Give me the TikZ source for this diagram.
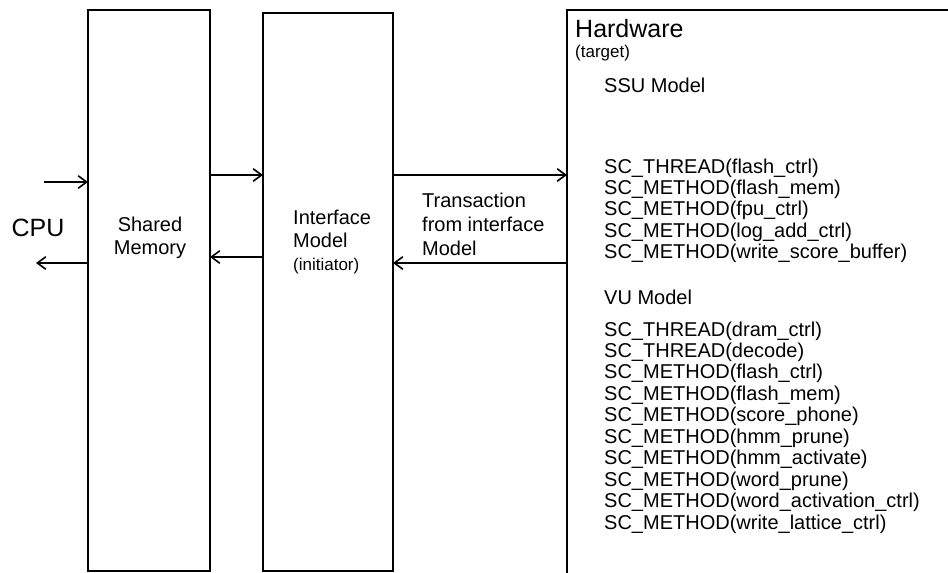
\documentclass[tikz,border=0pt]{standalone}
\usepackage{fontspec}
\setmainfont{Liberation Sans}
\usetikzlibrary{arrows.meta}
\begin{document}
\begin{tikzpicture}[x=1pt,y=-1pt,
  box/.style={draw, line width=1.3pt, outer sep=0pt, inner sep=0pt, anchor=north west},
  link/.style={line width=1.2pt, -{Straight Barb[length=8.5pt,width=12.5pt,line width=1.6pt]}},
  txt/.style={inner sep=0pt, font=\fontsize{20}{23}\selectfont},
  big/.style={inner sep=0pt, font=\fontsize{25}{28}\selectfont},
  small/.style={inner sep=0pt, font=\fontsize{17}{20}\selectfont},
  item/.style={txt, anchor=base west}
]
\useasboundingbox (0,0) rectangle (948,573);

% the three blocks
\node[box, minimum width=122pt, minimum height=561pt] (sm) at (88,10) {};
\node[box, minimum width=130pt, minimum height=558pt] (im) at (263,13) {};
\begin{scope}
  \clip (0,0) rectangle (948,573);
  \node[box, minimum width=420pt, minimum height=600pt] (hw) at (567,10) {};
\end{scope}

% signal levels
\coordinate (cpuin) at (44,182);
\coordinate (cpuout) at (36,263);
\coordinate (fwd) at (0,175);
\coordinate (back) at (0,257);
\coordinate (resp) at (0,263);

% connectors
\draw[link] (cpuin) -- (sm.west |- cpuin);
\draw[link] (sm.west |- cpuout) -- (cpuout);
\draw[link] (sm.east |- fwd) -- (im.west |- fwd);
\draw[link] (im.west |- back) -- (sm.east |- back);
\draw[link] (im.east |- fwd) -- (hw.west |- fwd);
\draw[link] (hw.west |- resp) -- (im.east |- resp);

% labels
\node[big, anchor=base] (cpu) at (38,236) {CPU};
\node[txt, anchor=base] (smlbl) at (150,231)
  {\begin{tabular}[t]{@{}c@{}}Shared\\Memory\end{tabular}};
\node[txt, anchor=base west] (imlbl) at (293,224)
  {\begin{tabular}[t]{@{}l@{}}Interface\\Model\\{\fontsize{17}{20}\selectfont(initiator)}\end{tabular}};
\node[txt, anchor=base west] (trlbl) at (422,207)
  {\fontsize{20}{24}\selectfont\begin{tabular}[t]{@{}l@{}}Transaction\\from interface\\Model\end{tabular}};

% hardware contents
\node[inner sep=0pt, font=\fontsize{25}{28}\selectfont, anchor=base west] (hwt) at (575,37) {Hardware};
\node[small, anchor=base west] (hwsub) at (575,57) {(target)};
\node[item] (ssu) at (604,92) {SSU Model};
\node[item] (s1) at (604,173) {SC\_THREAD(flash\_ctrl)};
\node[item] (s2) at (604,194.4) {SC\_METHOD(flash\_mem)};
\node[item] (s3) at (604,215.9) {SC\_METHOD(fpu\_ctrl)};
\node[item] (s4) at (604,237.3) {SC\_METHOD(log\_add\_ctrl)};
\node[item] (s5) at (604,258.8) {SC\_METHOD(write\_score\_buffer)};
\node[item] (vu) at (604,304) {VU Model};
\node[item] (v1) at (604,336) {SC\_THREAD(dram\_ctrl)};
\node[item] (v2) at (604,357.4) {SC\_THREAD(decode)};
\node[item] (v3) at (604,378.9) {SC\_METHOD(flash\_ctrl)};
\node[item] (v4) at (604,400.3) {SC\_METHOD(flash\_mem)};
\node[item] (v5) at (604,421.8) {SC\_METHOD(score\_phone)};
\node[item] (v6) at (604,443.2) {SC\_METHOD(hmm\_prune)};
\node[item] (v7) at (604,464.6) {SC\_METHOD(hmm\_activate)};
\node[item] (v8) at (604,486.1) {SC\_METHOD(word\_prune)};
\node[item] (v9) at (604,507.5) {SC\_METHOD(word\_activation\_ctrl)};
\node[item] (v10) at (604,529) {SC\_METHOD(write\_lattice\_ctrl)};
\end{tikzpicture}
\end{document}
